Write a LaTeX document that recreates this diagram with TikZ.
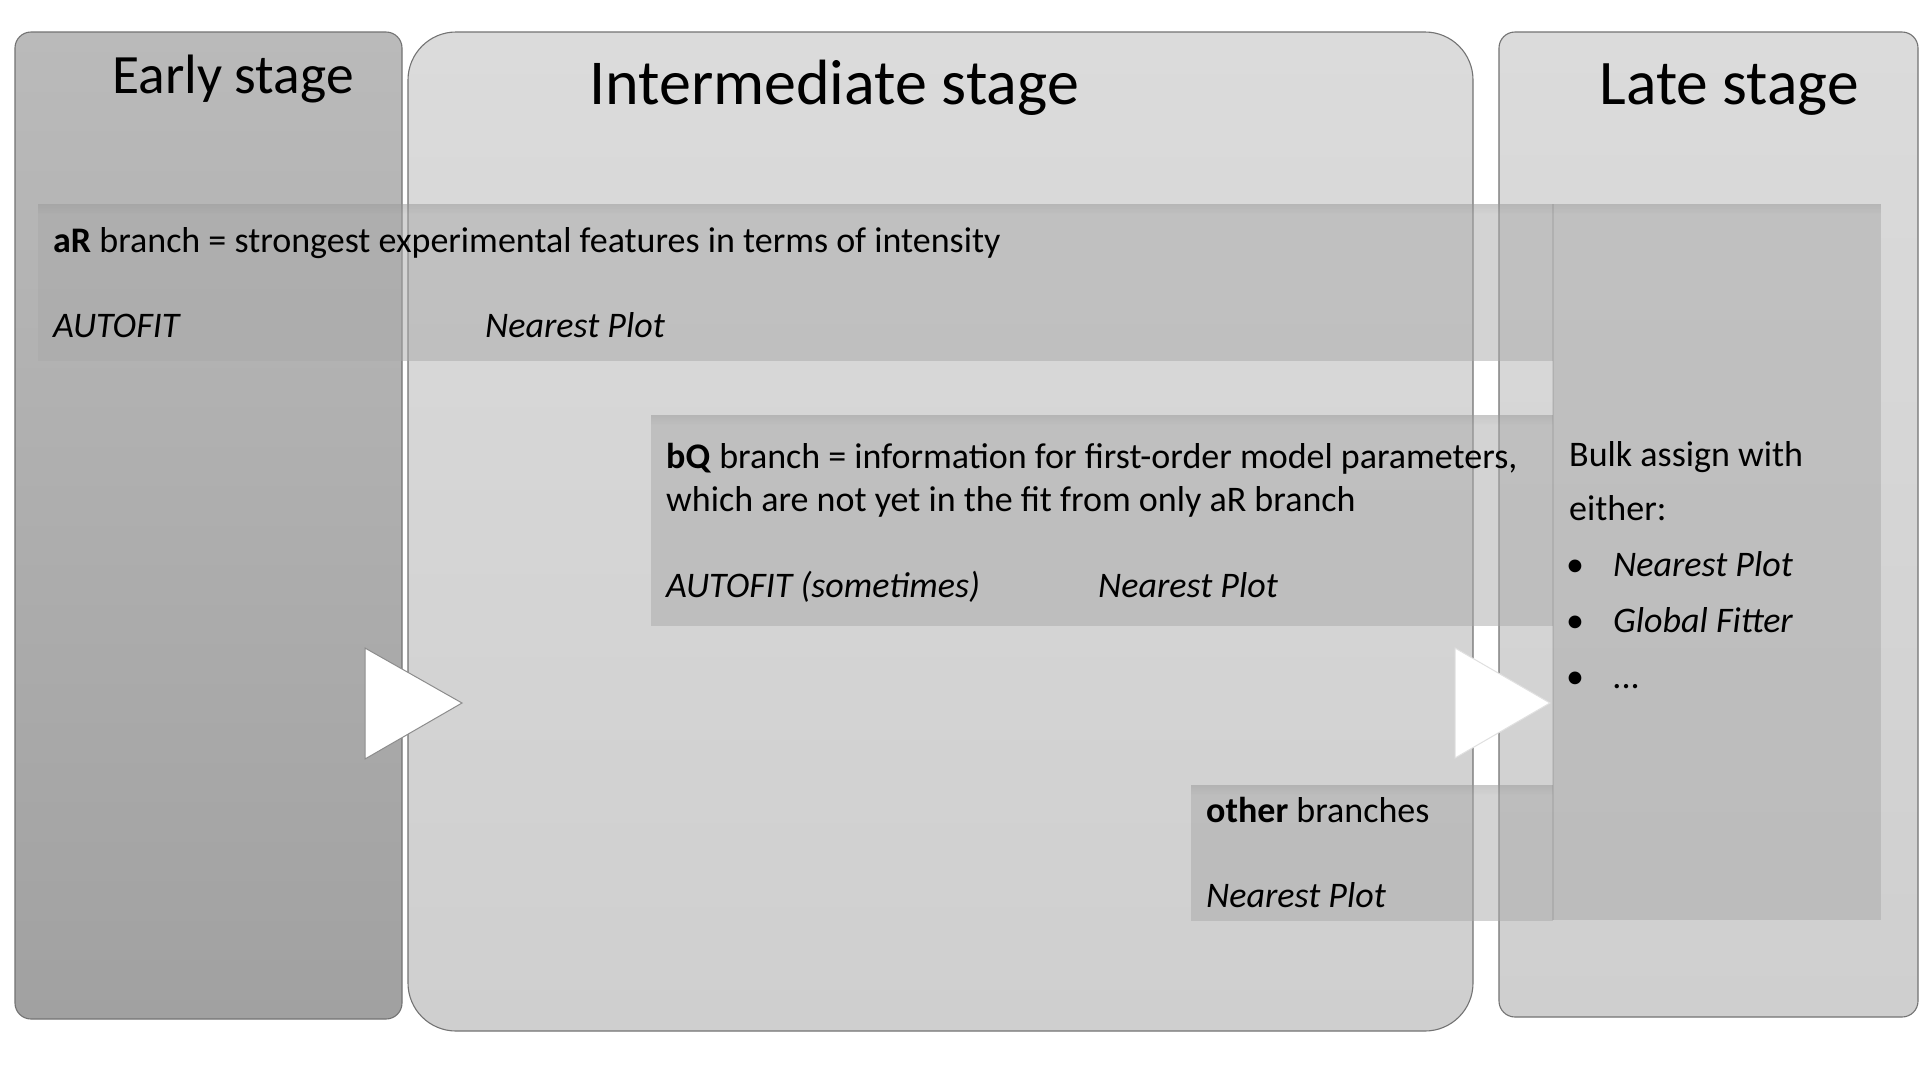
\documentclass[tikz,border=0pt]{standalone}
\usepackage{fontspec}
\setmainfont{Carlito}
\definecolor{earlytop}{HTML}{BABABA}
\definecolor{earlybot}{HTML}{A1A1A1}
\definecolor{midtop}{HTML}{DBDBDB}
\definecolor{midbot}{HTML}{CFCFCF}
\definecolor{bandgray}{HTML}{A9A9A9}
\begin{document}
\begin{tikzpicture}[x=1pt,y=-1pt,
  stagebox/.style={draw=black!55, line width=1.1pt},
  band/.style={fill=bandgray, fill opacity=0.5},
  txt/.style={anchor=base west, inner sep=0pt, font=\fontsize{36}{42}\selectfont},
  ttl/.style={anchor=base, inner sep=0pt},
  arrowtri/.style={fill=white, draw=black!45, line width=1pt}]
\useasboundingbox (0,0) rectangle (1920,1080);
\fill[white] (0,0) rectangle (1920,1080);
% stage boxes
\draw[stagebox, top color=earlytop, bottom color=earlybot, rounded corners=16pt] (15,32) rectangle (402,1019);
\draw[stagebox, top color=midtop, bottom color=midbot, rounded corners=48pt] (408,32) rectangle (1473,1031);
\draw[stagebox, top color=midtop, bottom color=midbot, rounded corners=16pt] (1499,32) rectangle (1918,1017);
% bands
\fill[band] (38,204) rectangle (1553,361);
\fill[band] (651,415) rectangle (1553,626);
\fill[band] (1191,785) rectangle (1553,921);
\fill[band] (1553,204) rectangle (1881,920);
\draw[black, opacity=0.08, line width=1.5pt] (1553,204) -- (1553,920);
% soft top shadows of the bands
\foreach \xa/\xb/\ya in {38/1881/204, 651/1553/415, 1191/1553/785}{
  \foreach \i in {0,...,9}{
    \pgfmathsetmacro\op{0.05*(1-\i/10)}
    \fill[black, opacity=\op] (\xa,\ya+\i) rectangle (\xb,\ya+\i+1);
  }
}
% arrows
\draw[arrowtri] (365,648) -- (462,703) -- (365,759) -- cycle;
\draw[arrowtri, draw=black!12] (1455,648) -- (1550,703) -- (1455,758) -- cycle;
% titles
\node[ttl, font=\fontsize{55.5}{60}\selectfont] (early) at (233,93) {Early stage};
\node[ttl, font=\fontsize{64}{70}\selectfont] (inter) at (834,104) {Intermediate stage};
\node[ttl, font=\fontsize{63.5}{70}\selectfont] (late) at (1729,104) {Late stage};
% aR band
\node[txt] (ar) at (53,252) {\textbf{aR} branch = strongest experimental features in terms of intensity};
\node[txt] (arauto) at (53,337) {\itshape AUTOFIT};
\node[txt] (arnp) at (485,337) {\itshape Nearest Plot};
% bQ band
\node[txt] (bq1) at (666,468) {\textbf{bQ} branch = information for first-order model parameters,};
\node[txt] (bq2) at (666,511) {which are not yet in the fit from only aR branch};
\node[txt] (bqauto) at (666,597) {\itshape AUTOFIT (sometimes)};
\node[txt] (bqnp) at (1098,597) {\itshape Nearest Plot};
% other band
\node[txt] (oth) at (1206,822) {\textbf{other} branches};
\node[txt] (othnp) at (1206,907) {\itshape Nearest Plot};
% late column
\node[txt] (bulk1) at (1569,466) {Bulk assign with};
\node[txt] (bulk2) at (1569,520) {either:};
\node[txt] (b1) at (1566,576) {•};
\node[txt] (i1) at (1613,576) {\itshape Nearest Plot};
\node[txt] (b2) at (1566,632) {•};
\node[txt] (i2) at (1613,632) {\itshape Global Fitter};
\node[txt] (b3) at (1566,688) {•};
\node[txt] (i3) at (1613,688) {\itshape ...};
\end{tikzpicture}
\end{document}
